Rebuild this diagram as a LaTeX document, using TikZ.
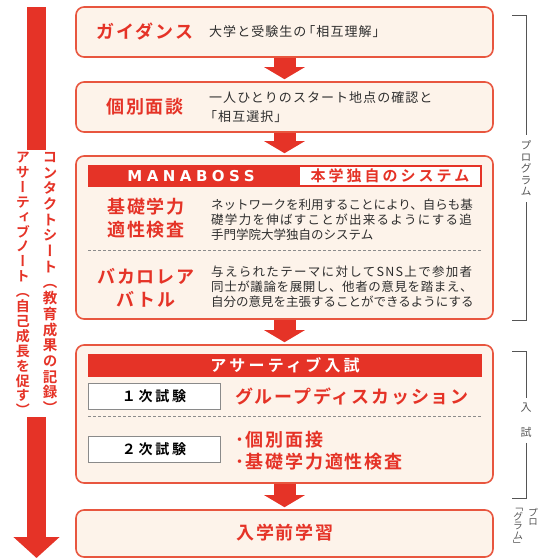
\documentclass[tikz,border=0pt]{standalone}
\usepackage{fontspec}
\setmainfont{Noto Sans CJK JP}[BoldFont={* Bold}]
\newfontfamily\jpwide{Noto Sans CJK JP}[BoldFont={* Bold},LetterSpace=10]
\newfontfamily\jpwider{Noto Sans CJK JP}[BoldFont={* Bold},LetterSpace=20]
\newfontfamily\jpdesc{Noto Sans CJK JP}[LetterSpace=8]
\newfontfamily\jptate{Noto Sans CJK JP}[BoldFont={* Bold},RawFeature=+vert]
\newfontfamily\manafont{DejaVu Sans}[LetterSpace=30]
\usetikzlibrary{arrows.meta}

% 行をのばす
\newcommand\spread[2]{{\addfontfeature{LetterSpace=#1}#2}}

\definecolor{jred}{HTML}{E53327}
\definecolor{boxfill}{HTML}{FDF3EA}
\definecolor{boxline}{HTML}{E8563F}
\definecolor{desctext}{HTML}{2E2E2E}
\definecolor{taggray}{HTML}{8A8A8A}
\definecolor{sepgray}{HTML}{8C8C8C}
\definecolor{bracketgray}{HTML}{555555}

\tikzset{
  flowbox/.style={draw=boxline, line width=1.6pt, fill=boxfill, rounded corners=8pt,
    minimum width=417pt, inner sep=0pt},
  flowarrow/.style={draw=jred, line width=22pt, -{Triangle[width=40pt,length=12pt]}, shorten >=2pt},
  redlabel/.style={text=jred, font=\jpwide\bfseries\fontsize{18}{23}\selectfont, align=center, inner sep=0pt},
  desc/.style={text=desctext, font=\fontsize{12.5}{15}\selectfont, align=left, anchor=west, inner sep=0pt},
  headbar/.style={fill=jred, minimum width=394pt, inner sep=0pt},
  examtag/.style={draw=taggray, line width=0.8pt, fill=white, minimum width=132pt, minimum height=26pt,
    inner sep=0pt, font=\jpwider\bfseries\fontsize{14}{16}\selectfont},
  sepline/.style={draw=sepgray, line width=0.8pt, dash pattern=on 3pt off 2pt},
  tate/.style={text=jred, font=\jptate\bfseries\fontsize{14.5}{15.7}\selectfont, align=center, inner sep=0pt},
  bracket/.style={draw=bracketgray, line width=1pt},
  brtext/.style={text=bracketgray, font=\jptate\fontsize{11}{11.5}\selectfont, align=center, inner sep=0pt}
}

\begin{document}
\begin{tikzpicture}[x=1pt,y=-1pt]
    \useasboundingbox (0,0) rectangle (539,558);

    % 左の矢印
    \coordinate (bartop) at (36.5,7);
    \coordinate (barbottom) at (36.5,150);
    \coordinate (sheettop) at (36.5,417);
    \coordinate (sheetbottom) at (36.5,558);
    \draw[draw=jred, line width=19pt] (bartop) -- (barbottom);
    \draw[draw=jred, line width=19pt, -{Triangle[width=45pt,length=21pt]}] (sheettop) -- (sheetbottom);
    \node[tate, anchor=north] (contact) at (50,152)
        {コ\\ン\\タ\\ク\\ト\\シ\\ー\\ト\\（\\教\\育\\成\\果\\の\\記\\録\\）};
    \node[tate, anchor=north, font=\jptate\bfseries\fontsize{14}{14.9}\selectfont] (assertive) at (23,152)
        {ア\\サ\\ー\\テ\\ィ\\ブ\\ノ\\ー\\ト\\（\\自\\己\\成\\長\\を\\促\\す\\）};

    % ボックス
    \node[flowbox, minimum height=50pt] (guide) at (284.5,32) {};
    \node[flowbox, minimum height=50pt] (mendan) at (284.5,107) {};
    \node[flowbox, minimum height=163pt] (mana) at (284.5,237.5) {};
    \node[flowbox, minimum height=138pt] (nyushi) at (284.5,414) {};
    \node[flowbox, minimum height=47pt] (pre) at (284.5,533.5) {};

    \draw[flowarrow] (guide.south) -- (mendan.north);
    \draw[flowarrow] (mendan.south) -- (mana.north);
    \draw[flowarrow] (mana.south) -- (nyushi.north);
    \draw[flowarrow] (nyushi.south) -- (pre.north);

    % ガイダンス・個別面談
    \node[redlabel] (guidetitle) at (145,32) {ガイダンス};
    \node[desc, font=\jpdesc\fontsize{13}{19}\selectfont] (guidedesc) at (209,32) {大学と受験生の\kern-4pt「相互理解」};
    \node[redlabel] (mendantitle) at (145,107) {個別面談};
    \node[desc, font=\jpdesc\fontsize{13}{19}\selectfont] (mendandesc) at (209,107.5)
        {一人ひとりのスタート地点の確認と\\\kern-5pt「相互選択」};

    % MANABOSS
    \node[headbar, minimum height=22pt] (manahead) at (285,176) {};
    \node[text=white, font=\manafont\bfseries\fontsize{15}{18}\selectfont, inner sep=0pt] (manatitle) at (191,176) {MANABOSS};
    \node[fill=white, minimum width=180pt, minimum height=18pt, inner sep=0pt, text=jred,
        font=\jpwider\bfseries\fontsize{15}{18}\selectfont] (original) at (390,176) {本学独自のシステム};
    \node[redlabel] (kiso) at (146,218.5) {基礎学力\\適性検査};
    \node[desc] (kisodesc) at (211,220)
        {ネットワークを利用することにより、自らも基\\\spread{10.3}{礎学力を伸ばすことが出来るようにする追}\\手門学院大学独自のシステム};
    \draw[sepline] (88,250) -- (482,250);
    \node[redlabel] (baca) at (146,287.5) {バカロレア\\バトル};
    \node[desc] (bacadesc) at (211,287)
        {\spread{10.5}{与えられたテーマに対してSNS上で参加者}\\\spread{4.8}{同士が議論を展開し、他者の意見を踏まえ、}\\自分の意見を主張することができるようにする};

    % アサーティブ入試
    \node[headbar, minimum height=23pt, text=white, font=\jpwider\bfseries\fontsize{16}{18}\selectfont]
        (nyushihead) at (285,365.5) {アサーティブ入試};
    \node[examtag] (first) at (154,396) {１次試験};
    \node[redlabel, anchor=west] (gd) at (235,397) {グループディスカッション};
    \draw[sepline] (88,416) -- (482,416);
    \node[examtag] (second) at (154,449.5) {２次試験};
    \node[redlabel, anchor=west, align=left, font=\jpwide\bfseries\fontsize{18}{22}\selectfont] (secondlist) at (235,451)
        {･個別面接\\･基礎学力適性検査};

    % 入学前学習
    \node[redlabel] (pretitle) at (285,533) {入学前学習};

    % 右の括弧
    \node[brtext] (prog) at (526,168.5) {プ\\ロ\\グ\\ラ\\ム};
    \draw[bracket, shorten >=6pt] (512,15) -- (526,15) -- (prog.north);
    \draw[bracket, shorten <=6pt] (prog.south) -- (526,320) -- (512,320);
    \node[brtext, font=\jptate\fontsize{11}{25}\selectfont] (nyushimark) at (526,420.5) {入\\試};
    \draw[bracket, shorten >=5pt] (512,351) -- (526,351) -- (nyushimark.north);
    \draw[bracket, shorten <=5pt] (nyushimark.south) -- (526,498) -- (512,498);
    \node[brtext, font=\jptate\fontsize{10}{9.5}\selectfont, anchor=north] (progleft) at (518,508) {「\\グ\\ラ\\ム\\」};
    \node[brtext, font=\jptate\fontsize{10}{9.5}\selectfont, anchor=north] (progright) at (533,508) {プ\\ロ};
\end{tikzpicture}
\end{document}
